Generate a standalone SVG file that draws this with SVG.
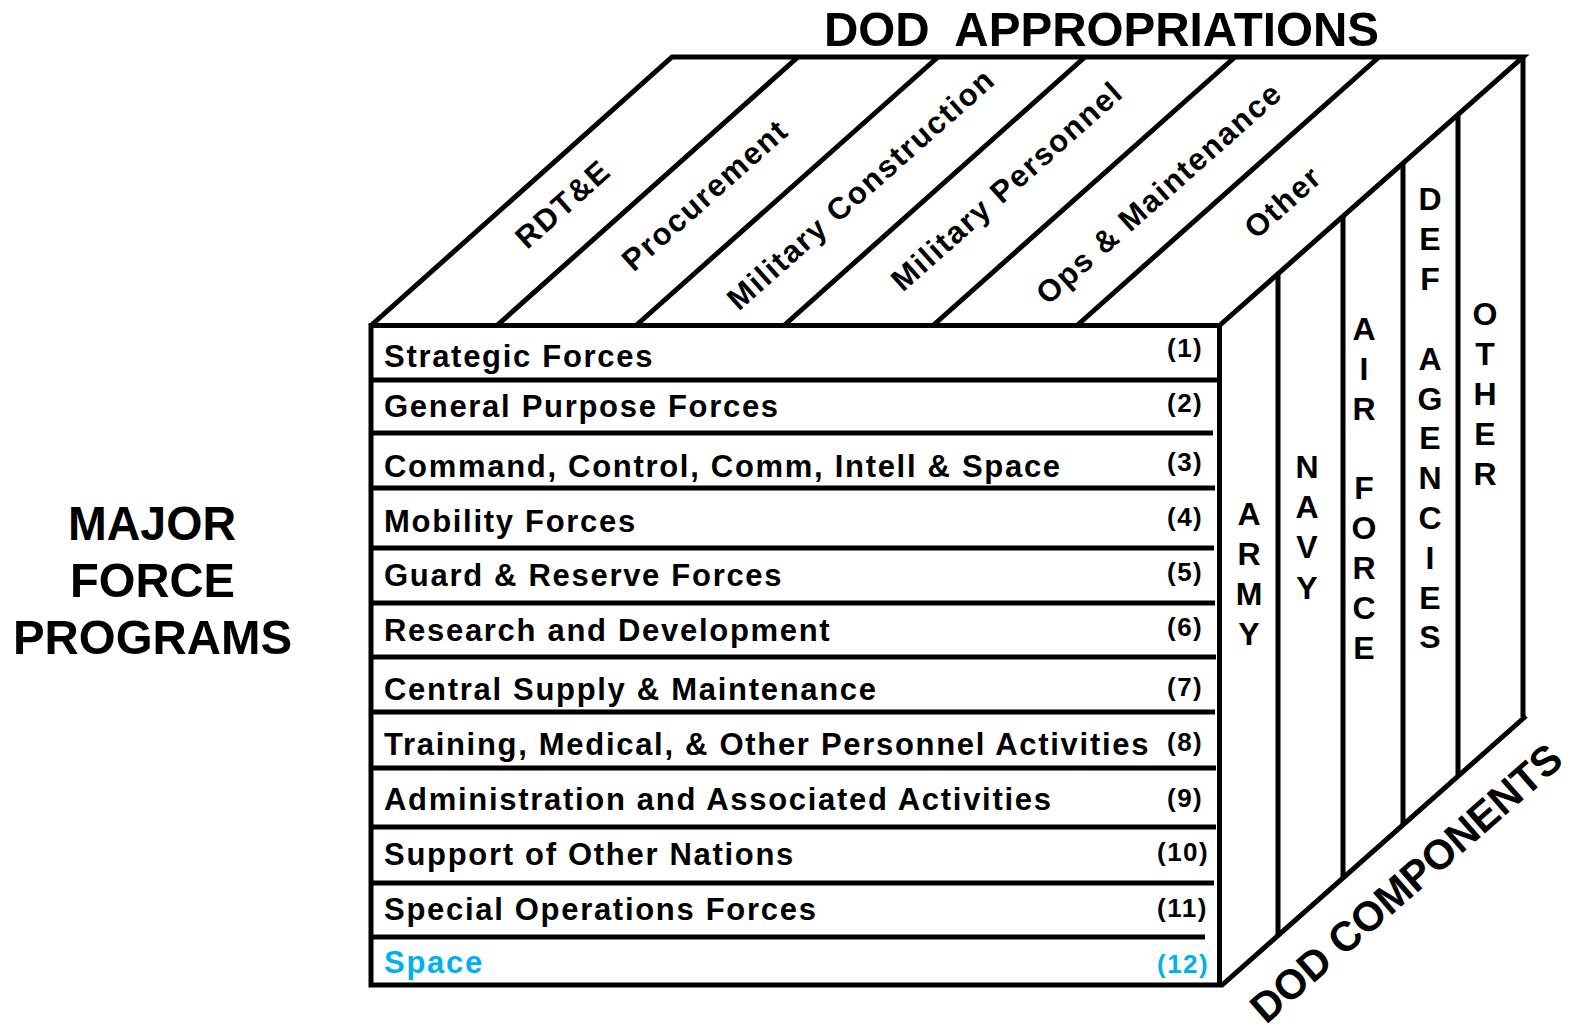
<svg xmlns="http://www.w3.org/2000/svg" width="1572" height="1030" viewBox="0 0 1572 1030">
<style>
.ln{stroke:#000;stroke-width:5;fill:none;stroke-linecap:butt;stroke-linejoin:miter}
text{font-family:"Liberation Sans",Arial,Helvetica,sans-serif;font-weight:bold;fill:#000}
.lbl{font-size:31px;letter-spacing:1.7px}
.num{font-size:26px;letter-spacing:1.5px}
.diag{font-size:31px;letter-spacing:1.7px;text-anchor:middle}
.vert{font-size:32px;text-anchor:middle}
.big{font-size:49px}
.blue{fill:#00B0F0}
</style>
<rect width="1572" height="1030" fill="#fff"/>

<g id="connectors">
  <path class="ln" d="M371,325.5 H1219.5 V985 H371 Z"/>
  <path class="ln" d="M371,325.5 L672,57 H1523 L1219.5,325.5"/>
  <path class="ln" d="M1523,55 V717"/>
  <path class="ln" d="M1526,716 L1221,986"/>
  <path class="ln" d="M798,57 L497,325.5 M938,57 L636,325.5 M1085,57 L784,325.5 M1235,57 L933,325.5 M1379,57 L1077,325.5"/>
  <path class="ln" d="M1278,274 V935 M1343,216 V878 M1403,163 V824 M1458,114 V775"/>
  <path class="ln" d="M371,380 H1217 M371,433 H1213 M371,488 H1215 M371,548 H1214 M371,603 H1215 M371,657 H1216 M371,712 H1215 M371,768 H1216 M371,827 H1216 M371,883 H1214 M371,937 H1205"/>
</g>

<g id="title">
  <text class="big" x="824" y="46" textLength="555" lengthAdjust="spacingAndGlyphs" xml:space="preserve">DOD  APPROPRIATIONS</text>
</g>

<g id="major-force-programs">
  <text class="big" x="68" y="540" textLength="168" lengthAdjust="spacingAndGlyphs">MAJOR</text>
  <text class="big" x="70" y="597" textLength="165" lengthAdjust="spacingAndGlyphs">FORCE</text>
  <text class="big" x="13" y="654" textLength="279" lengthAdjust="spacingAndGlyphs">PROGRAMS</text>
</g>

<g id="dod-components">
  <text x="1266" y="1025" font-size="42" textLength="398" lengthAdjust="spacingAndGlyphs" transform="rotate(-41.2 1266 1025)">DOD COMPONENTS</text>
</g>

<g id="approp-rdte"><text class="diag" x="570" y="212" transform="rotate(-41.6 570 212)">RDT&amp;E</text></g>
<g id="approp-procurement"><text class="diag" x="712" y="203" transform="rotate(-41.6 712 203)">Procurement</text></g>
<g id="approp-milcon"><text class="diag" x="868" y="197" transform="rotate(-41.6 868 197)">Military Construction</text></g>
<g id="approp-milpers"><text class="diag" x="1014" y="194" transform="rotate(-41.6 1014 194)">Military Personnel</text></g>
<g id="approp-om"><text class="diag" x="1166" y="201" transform="rotate(-41.6 1166 201)">Ops &amp; Maintenance</text></g>
<g id="approp-other"><text class="diag" x="1290" y="210" transform="rotate(-41.6 1290 210)">Other</text></g>

<g id="mfp-1"><text class="lbl" x="384" y="367">Strategic Forces</text><text class="num" x="1167" y="357">(1)</text></g>
<g id="mfp-2"><text class="lbl" x="384" y="417">General Purpose Forces</text><text class="num" x="1167" y="412">(2)</text></g>
<g id="mfp-3"><text class="lbl" x="384" y="477">Command, Control, Comm, Intell &amp; Space</text><text class="num" x="1167" y="471">(3)</text></g>
<g id="mfp-4"><text class="lbl" x="384" y="532">Mobility Forces</text><text class="num" x="1167" y="526">(4)</text></g>
<g id="mfp-5"><text class="lbl" x="384" y="586">Guard &amp; Reserve Forces</text><text class="num" x="1167" y="581">(5)</text></g>
<g id="mfp-6"><text class="lbl" x="384" y="641">Research and Development</text><text class="num" x="1167" y="636">(6)</text></g>
<g id="mfp-7"><text class="lbl" x="384" y="700">Central Supply &amp; Maintenance</text><text class="num" x="1167" y="696">(7)</text></g>
<g id="mfp-8"><text class="lbl" x="384" y="755">Training, Medical, &amp; Other Personnel Activities</text><text class="num" x="1167" y="751">(8)</text></g>
<g id="mfp-9"><text class="lbl" x="384" y="810">Administration and Associated Activities</text><text class="num" x="1167" y="807">(9)</text></g>
<g id="mfp-10"><text class="lbl" x="384" y="865">Support of Other Nations</text><text class="num" x="1157" y="861">(10)</text></g>
<g id="mfp-11"><text class="lbl" x="384" y="920">Special Operations Forces</text><text class="num" x="1157" y="917">(11)</text></g>
<g id="mfp-12"><text class="lbl blue" x="384" y="973">Space</text><text class="num blue" x="1157" y="973">(12)</text></g>

<g id="comp-army"><text class="vert"><tspan x="1249" y="525">A</tspan><tspan x="1249" y="565">R</tspan><tspan x="1249" y="605">M</tspan><tspan x="1249" y="645">Y</tspan></text></g>
<g id="comp-navy"><text class="vert"><tspan x="1307" y="478">N</tspan><tspan x="1307" y="518">A</tspan><tspan x="1307" y="558">V</tspan><tspan x="1307" y="599">Y</tspan></text></g>
<g id="comp-airforce"><text class="vert"><tspan x="1364" y="340">A</tspan><tspan x="1364" y="380">I</tspan><tspan x="1364" y="420">R</tspan><tspan x="1364" y="499">F</tspan><tspan x="1364" y="539">O</tspan><tspan x="1364" y="579">R</tspan><tspan x="1364" y="619">C</tspan><tspan x="1364" y="659">E</tspan></text></g>
<g id="comp-defagencies"><text class="vert"><tspan x="1430" y="210">D</tspan><tspan x="1430" y="250">E</tspan><tspan x="1430" y="290">F</tspan><tspan x="1430" y="370">A</tspan><tspan x="1430" y="410">G</tspan><tspan x="1430" y="449">E</tspan><tspan x="1430" y="489">N</tspan><tspan x="1430" y="529">C</tspan><tspan x="1430" y="569">I</tspan><tspan x="1430" y="609">E</tspan><tspan x="1430" y="648">S</tspan></text></g>
<g id="comp-other"><text class="vert"><tspan x="1485" y="325">O</tspan><tspan x="1485" y="365">T</tspan><tspan x="1485" y="405">H</tspan><tspan x="1485" y="445">E</tspan><tspan x="1485" y="485">R</tspan></text></g>
</svg>
